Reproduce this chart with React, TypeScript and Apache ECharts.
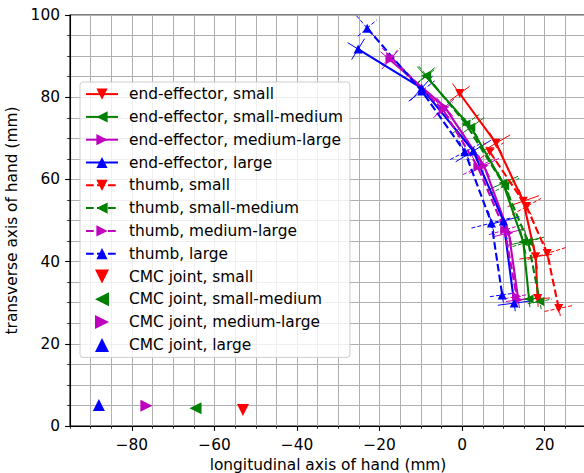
import React, { useEffect, useRef } from "react";
import * as echarts from "echarts";

// ---- data (mm) ----
const eeSmallX = [-0.6, 8.2, 14.8, 17.8, 18.3];
const eeSmallY = [80.9, 68.8, 54.7, 41.2, 31.0];
const eeSmallMedX = [-8.9, 2.1, 9.9, 14.8, 16.2];
const eeSmallMedY = [85.2, 72.7, 59.1, 44.8, 30.9];
const eeMedLargeX = [-17.5, -4.2, 5.3, 11.3, 13.6];
const eeMedLargeY = [89.1, 77.6, 63.3, 47.0, 30.7];
const eeLargeX = [-25.2, -9.8, 2.7, 10.0, 12.6];
const eeLargeY = [91.7, 82.2, 66.9, 49.9, 29.9];

const thSmallX = [6.7, 15.6, 20.6, 23.4];
const thSmallY = [66.7, 53.4, 42.0, 28.6];
const thSmallMedX = [-8.6, 0.9, 10.3, 16.0, 18.8];
const thSmallMedY = [85.2, 73.5, 58.4, 44.8, 30.3];
const thMedLargeX = [-17.3, -4.6, 3.8, 10.3, 13.2];
const thMedLargeY = [89.8, 76.9, 63.0, 47.7, 31.5];
const thLargeX = [-23.0, -9.8, 0.65, 7.1, 9.7];
const thLargeY = [96.8, 81.5, 66.7, 49.4, 31.9];

// error half-lengths (mm): along the path, across the path
const eeSmallErrAlong = [3, 3, 3, 3, 2];
const eeSmallErrAcross = [3, 4, 4, 4, 3];
const eeSmallMedErrAlong = [3, 3, 3, 3, 2];
const eeSmallMedErrAcross = [3, 4, 4, 4, 3];
const eeMedLargeErrAlong = [3, 3, 3, 3, 2];
const eeMedLargeErrAcross = [3, 3, 4, 4, 3];
const eeLargeErrAlong = [3, 3, 3, 3, 2];
const eeLargeErrAcross = [3, 4, 5, 4, 4];
const thSmallErrAlong = [3, 3, 3, 2];
const thSmallErrAcross = [4, 4, 5, 3.5];
const thSmallMedErrAlong = [3, 3, 3, 3, 2];
const thSmallMedErrAcross = [3, 4, 4, 4, 3];
const thMedLargeErrAlong = [3, 3, 3, 3, 2];
const thMedLargeErrAcross = [3, 3, 4, 4, 3];
const thLargeErrAlong = [4, 3, 3, 3, 2];
const thLargeErrAcross = [3, 4, 4, 5, 3];

const cmcX = [-53.1, -64.6, -76.5, -88.0];
const cmcY = [3.9, 4.3, 4.9, 5.1];

const sizeNames = ["small", "small-medium", "medium-large", "large"];
const colors = ["#ff0000", "#008000", "#bf00bf", "#0000ff"];
const xTickLabels = [-80, -60, -40, -20, 0, 20];
const yTickLabels = [0, 20, 40, 60, 80, 100];

const SYM_DOWN = "path://M0,0L2,0L1,2Z";
const SYM_LEFT = "path://M2,0L2,2L0,1Z";
const SYM_RIGHT = "path://M0,0L2,1L0,2Z";
const SYM_UP = "path://M1,0L2,2L0,2Z";
const symbols = [SYM_DOWN, SYM_LEFT, SYM_RIGHT, SYM_UP];

const FONT = "DejaVu Sans";
const FS = 15.4;
const DASH = [7.7, 3.3];

function fmtNum(v: number) {
  return v < 0 ? "\u2212" + Math.abs(v) : String(v);
}

export default function App() {
  const ref = useRef<HTMLDivElement>(null);
  useEffect(() => {
    if (!ref.current) return;
    const chart = echarts.init(ref.current, null, { renderer: "svg" });

    const ee = [
      [eeSmallX, eeSmallY, eeSmallErrAlong, eeSmallErrAcross],
      [eeSmallMedX, eeSmallMedY, eeSmallMedErrAlong, eeSmallMedErrAcross],
      [eeMedLargeX, eeMedLargeY, eeMedLargeErrAlong, eeMedLargeErrAcross],
      [eeLargeX, eeLargeY, eeLargeErrAlong, eeLargeErrAcross],
    ];
    const th = [
      [thSmallX, thSmallY, thSmallErrAlong, thSmallErrAcross],
      [thSmallMedX, thSmallMedY, thSmallMedErrAlong, thSmallMedErrAcross],
      [thMedLargeX, thMedLargeY, thMedLargeErrAlong, thMedLargeErrAcross],
      [thLargeX, thLargeY, thLargeErrAlong, thLargeErrAcross],
    ];

    const errData = (xs: number[], ys: number[], al: number[], ac: number[]) =>
      xs.map((x, i) => {
        const a = Math.max(0, i - 1);
        const b = Math.min(xs.length - 1, i + 1);
        let tx = xs[b] - xs[a];
        let ty = ys[b] - ys[a];
        const n = Math.hypot(tx, ty) || 1;
        tx /= n;
        ty /= n;
        return [x, ys[i], tx, ty, al[i], ac[i]];
      });

    const errSeries = (d: any[], color: string, dashed: boolean) => ({
      type: "custom",
      silent: true,
      z: 1,
      data: d,
      encode: { x: 0, y: 1 },
      renderItem: (params: any, api: any) => {
        const x = api.value(0), y = api.value(1);
        const tx = api.value(2), ty = api.value(3);
        const a = api.value(4), c = api.value(5);
        const p1 = api.coord([x - tx * a, y - ty * a]);
        const p2 = api.coord([x + tx * a, y + ty * a]);
        const nx = -ty, ny = tx;
        const q1 = api.coord([x - nx * c, y - ny * c]);
        const q2 = api.coord([x + nx * c, y + ny * c]);
        const style = { stroke: color, lineWidth: 1, lineDash: dashed ? [4, 2] : null, fill: null };
        return {
          type: "group",
          children: [
            { type: "line", shape: { x1: p1[0], y1: p1[1], x2: p2[0], y2: p2[1] }, style },
            { type: "line", shape: { x1: q1[0], y1: q1[1], x2: q2[0], y2: q2[1] }, style },
          ],
        };
      },
    });

    const series: any[] = [];
    const legendNames: string[] = [];
    ee.forEach((s, i) => {
      const name = "end-effector, " + sizeNames[i];
      legendNames.push(name);
      series.push({
        name,
        type: "line",
        z: 3,
        data: (s[0] as number[]).map((x, k) => [x, (s[1] as number[])[k]]),
        symbol: symbols[i],
        symbolSize: 9,
        showSymbol: true,
        itemStyle: { color: colors[i], opacity: 1 },
        lineStyle: { color: colors[i], width: 2.1 },
      });
    });
    th.forEach((s, i) => {
      const name = "thumb, " + sizeNames[i];
      legendNames.push(name);
      series.push({
        name,
        type: "line",
        z: 3,
        data: (s[0] as number[]).map((x, k) => [x, (s[1] as number[])[k]]),
        symbol: symbols[i],
        symbolSize: 9,
        itemStyle: { color: colors[i], opacity: 1 },
        lineStyle: { color: colors[i], width: 2.1, type: DASH },
      });
    });
    sizeNames.forEach((sz, i) => {
      const name = "CMC joint, " + sz;
      legendNames.push(name);
      series.push({
        name,
        type: "scatter",
        z: 3,
        data: [[cmcX[i], cmcY[i]]],
        symbol: symbols[i],
        symbolSize: 12,
        itemStyle: { color: colors[i], opacity: 1 },
      });
    });
    ee.forEach((s, i) =>
      series.push(errSeries(errData(s[0] as number[], s[1] as number[], s[2] as number[], s[3] as number[]), colors[i], false))
    );
    th.forEach((s, i) =>
      series.push(errSeries(errData(s[0] as number[], s[1] as number[], s[2] as number[], s[3] as number[]), colors[i], true))
    );

    const option: any = {
      animation: false,
      textStyle: { fontFamily: FONT, fontSize: FS },
      grid: {
        left: 70,
        top: 15,
        width: 516,
        bottom: 47,
        outerBoundsMode: "none",
        containLabel: false,
        show: true,
        borderColor: "#000",
        borderWidth: 1.1,
        backgroundColor: "transparent",
      },
      legend: {
        orient: "vertical",
        left: 80,
        top: 82,
        data: legendNames,
        itemWidth: 32,
        itemHeight: 14,
        itemGap: 7.8,
        padding: [4.6, 7, 5, 5],
        backgroundColor: "rgba(255,255,255,0.8)",
        borderColor: "#cccccc",
        borderWidth: 1,
        borderRadius: 3,
        textStyle: { fontFamily: FONT, fontSize: FS, color: "#000", padding: [0, 0, 0, 6] },
      },
      xAxis: [
        {
          type: "value",
          min: -95,
          max: 30,
          interval: 5,
          name: "longitudinal axis of hand (mm)",
          nameLocation: "middle",
          nameGap: 31,
          nameTextStyle: { fontFamily: FONT, fontSize: FS, color: "#000" },
          axisLine: { show: true, onZero: false, lineStyle: { color: "#000", width: 1.1 } },
          axisTick: { show: true, length: 2.8, lineStyle: { color: "#000", width: 0.8 } },
          axisLabel: {
            interval: 0,
            margin: 11,
            fontFamily: FONT,
            fontSize: FS,
            color: "#000",
            formatter: (v: number) => (xTickLabels.indexOf(v) >= 0 ? fmtNum(v) : ""),
            showMinLabel: true,
            showMaxLabel: true,
          },
          splitLine: { show: true, lineStyle: { color: "#b0b0b0", width: 1 } },
        },
        {
          type: "value",
          min: -95,
          max: 30,
          position: "bottom",
          offset: 0,
          axisLine: { show: false, onZero: false },
          axisTick: { show: true, length: 4.9, customValues: xTickLabels, lineStyle: { color: "#000", width: 1.1 } },
          axisLabel: { show: false },
          splitLine: { show: false },
        },
      ],
      yAxis: {
        type: "value",
        min: 0,
        max: 100,
        interval: 20,
        name: "transverse axis of hand (mm)",
        nameLocation: "middle",
        nameGap: 43,
        nameTextStyle: { fontFamily: FONT, fontSize: FS, color: "#000" },
        axisLine: { show: true, onZero: false, lineStyle: { color: "#000", width: 1.1 } },
        axisTick: { show: true, length: 4.9, lineStyle: { color: "#000", width: 1.1 } },
        minorTick: { show: true, splitNumber: 4, length: 2.8, lineStyle: { color: "#000", width: 0.8 } },
        minorSplitLine: { show: true, lineStyle: { color: "#b0b0b0", width: 1 } },
        axisLabel: {
          margin: 10,
          fontFamily: FONT,
          fontSize: FS,
          color: "#000",
          formatter: (v: number) => (yTickLabels.indexOf(v) >= 0 ? fmtNum(v) : ""),
        },
        splitLine: { show: true, lineStyle: { color: "#b0b0b0", width: 1 } },
      },
      series,
    };
    chart.setOption(option);
    return () => chart.dispose();
  }, []);

  return <div ref={ref} style={{ width: 584, height: 473, position: "absolute", left: 0, top: 0 }} />;
}
